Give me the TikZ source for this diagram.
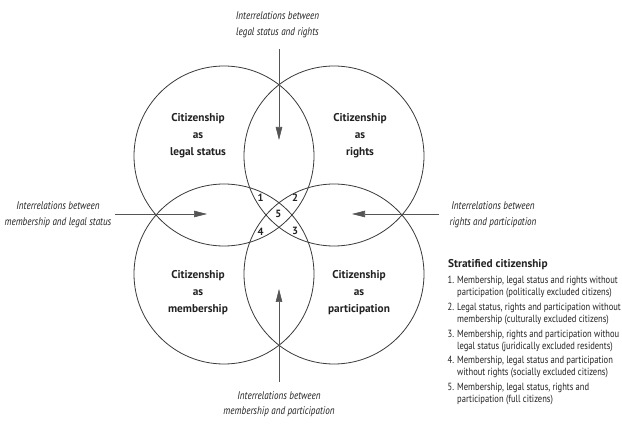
\documentclass[tikz,border=0pt]{standalone}
\usepackage{fontspec}
\setmainfont{PT Sans}
\newfontfamily\condfont{PT Sans}[FakeStretch=0.82]
\usetikzlibrary{arrows.meta}
\definecolor{ink}{HTML}{222222}
\definecolor{circ}{HTML}{3A3A3A}
\definecolor{arr}{HTML}{555555}
\tikzset{
  ring/.style={draw=circ, line width=0.8pt},
  clabel/.style={align=center, text=ink, font=\fontsize{11.3}{17}\selectfont\bfseries},
  ilabel/.style={align=center, text=ink, font=\condfont\fontsize{11.1}{15.6}\selectfont\itshape},
  num/.style={text=ink, font=\fontsize{10.5}{11}\selectfont\bfseries, inner sep=0pt},
  arrowline/.style={draw=arr, line width=0.6pt, -{Triangle[length=13pt,width=6.5pt]}},
  legend/.style={anchor=west, text=ink, inner sep=0pt, font=\condfont\fontsize{10.4}{11.7}\selectfont},
}
\begin{document}
\begin{tikzpicture}[x=1pt,y=-1pt]
\useasboundingbox (0,0) rectangle (622,430);
\fill[white] (0,0) rectangle (622,430);
% circles
\draw[ring] (224,156) circle (90);
\draw[ring] (334,156) circle (90);
\draw[ring] (224,274) circle (90);
\draw[ring] (334,274) circle (90);
% circle labels
\node[clabel] (legal) at (198,136) {Citizenship\\as\\legal status};
\node[clabel] (rights) at (360,136) {Citizenship\\as\\rights};
\node[clabel] (memb) at (198,293) {Citizenship\\as\\membership};
\node[clabel] (part) at (359,293) {Citizenship\\as\\participation};
% numbers
\node[num] (n1) at (260.7,197.3) {1};
\node[num] (n2) at (295,197.3) {2};
\node[num] (n5) at (278.3,213.5) {5};
\node[num] (n4) at (260.7,232.3) {4};
\node[num] (n3) at (295,230.7) {3};
% interrelation labels
\node[ilabel] (top) at (277.5,24.5) {Interrelations between\\legal status and rights};
\node[ilabel] (left) at (58,214.5) {Interrelations between\\membership and legal status};
\node[ilabel] (right) at (493,214.5) {Interrelations between\\rights and participation};
\node[ilabel] (bottom) at (279,404) {Interrelations between\\membership and participation};
% arrows
\coordinate (ts) at (279,49);  \coordinate (te) at (279,140);
\coordinate (ls) at (115,214); \coordinate (le) at (207,214);
\coordinate (rs) at (439,214); \coordinate (re) at (352,214);
\coordinate (bs) at (279,382); \coordinate (be) at (279,289);
\draw[arrowline] (ts) -- (te);
\draw[arrowline] (ls) -- (le);
\draw[arrowline] (rs) -- (re);
\draw[arrowline] (bs) -- (be);
% legend
\node[anchor=west, text=ink, inner sep=0pt, font=\fontsize{11.3}{13}\selectfont\bfseries] (ltitle) at (448,265) {Stratified citizenship};
\node[legend] (l1) at (447.5,287.5) {\begin{tabular}{@{}l@{\hspace{3pt}}l@{}}1.&Membership, legal status and rights without\\&participation (politically excluded citizens)\end{tabular}};
\node[legend] (l2) at (447.5,314.2) {\begin{tabular}{@{}l@{\hspace{3pt}}l@{}}2.&Legal status, rights and participation without\\&membership (culturally excluded citizens)\end{tabular}};
\node[legend] (l3) at (447.5,340.9) {\begin{tabular}{@{}l@{\hspace{3pt}}l@{}}3.&Membership, rights and participation withou\\&legal status (juridically excluded residents)\end{tabular}};
\node[legend] (l4) at (447.5,367.5) {\begin{tabular}{@{}l@{\hspace{3pt}}l@{}}4.&Membership, legal status and participation\\&without rights (socially excluded citizens)\end{tabular}};
\node[legend] (l5) at (447.5,394.2) {\begin{tabular}{@{}l@{\hspace{3pt}}l@{}}5.&Membership, legal status, rights and\\&participation (full citizens)\end{tabular}};
\end{tikzpicture}
\end{document}
